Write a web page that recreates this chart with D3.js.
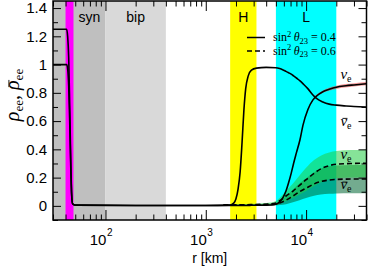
<!DOCTYPE html>
<html>
<head>
<meta charset="utf-8">
<script src="https://cdn.jsdelivr.net/npm/d3@7"></script>
<style>
  html, body { margin: 0; padding: 0; background: #fff; }
  svg { display: block; }
</style>
</head>
<body>
<div id="chart"></div>
<script>
// shaded regions along r [km]
const regionNames = ["syn", "bip", "H", "L"];
const regionStart = [30, 100, 1750, 5000];
const regionEnd = [100, 400, 3200, 20000];
const regionColors = ["#bfbfbf", "#d9d9d9", "#ffff00", "#00ffff"];
const regionLabelStart = [48, 100, 1750, 5000];
const neutrinoSphere = [40, 48];

// sin^2 theta23 = 0.4 (solid)
const r04 = [30, 41, 42, 43, 44, 45, 46, 47, 50, 200, 1000,
  1700, 1900, 2000, 2100, 2200, 2300, 2400, 2500, 2650, 2850, 3200,
  4000, 5000, 5450, 5900, 6300, 6700, 7100, 7500, 8000, 8700, 9300,
  10400, 11700, 12600, 14700, 17000, 20000, 25000, 30000, 40000];
const rhoNuE04 = [1.0, 1.0, 0.97, 0.85, 0.6, 0.3, 0.08, 0.015, 0.005, 0.003, 0.003,
  0.003, 0.003, 0.003, 0.003, 0.003, 0.003, 0.003, 0.003, 0.003, 0.004, 0.004,
  0.005, 0.012, 0.028, 0.06, 0.105, 0.165, 0.23, 0.3, 0.375, 0.47, 0.57,
  0.68, 0.75, 0.775, 0.808, 0.825, 0.84, 0.85, 0.856, 0.865];
const rhoNuEbar04 = [1.25, 1.25, 1.2, 1.05, 0.72, 0.35, 0.09, 0.015, 0.005, 0.003, 0.003,
  0.005, 0.02, 0.05, 0.12, 0.24, 0.45, 0.68, 0.83, 0.92, 0.96, 0.975,
  0.98, 0.978, 0.972, 0.962, 0.952, 0.942, 0.932, 0.92, 0.905, 0.885, 0.865,
  0.83, 0.785, 0.762, 0.735, 0.72, 0.713, 0.707, 0.703, 0.7];
// spread of nu_e (0.4)
const rBand04 = [9300, 11700, 14700, 20000, 30000, 40000];
const nuE04Lo = [0.57, 0.745, 0.8, 0.828, 0.844, 0.853];
const nuE04Hi = [0.57, 0.755, 0.816, 0.851, 0.868, 0.877];

// sin^2 theta23 = 0.6 (dashed)
const r06 = [1500, 2500, 4000, 5000, 5450, 6300, 7400, 8600, 10000,
  12000, 14000, 17000, 20000, 28000, 40000];
const rhoNuE06 = [0.006, 0.008, 0.012, 0.02, 0.036, 0.07, 0.105, 0.145, 0.185,
  0.23, 0.262, 0.285, 0.295, 0.3, 0.302];
const nuE06Lo = [0.002, 0.003, 0.004, 0.006, 0.015, 0.035, 0.055, 0.08, 0.105,
  0.14, 0.165, 0.188, 0.196, 0.2, 0.203];
const nuE06Hi = [0.01, 0.013, 0.02, 0.035, 0.056, 0.105, 0.158, 0.215, 0.27,
  0.325, 0.355, 0.378, 0.388, 0.395, 0.398];
const rhoNuEbar06 = [0.005, 0.006, 0.009, 0.012, 0.02, 0.04, 0.07, 0.1, 0.125,
  0.155, 0.172, 0.183, 0.187, 0.19, 0.19];
const nuEbar06Lo = [0.001, 0.002, 0.003, 0.004, 0.006, 0.012, 0.025, 0.04, 0.055,
  0.072, 0.08, 0.085, 0.088, 0.089, 0.09];
const nuEbar06Hi = [0.009, 0.01, 0.015, 0.02, 0.034, 0.068, 0.115, 0.16, 0.195,
  0.238, 0.264, 0.281, 0.286, 0.29, 0.29];

// ticks and legend
const xMajor = [100, 1000, 10000];
const xExponents = ["2", "3", "4"];
const yMajor = [0, 0.2, 0.4, 0.6, 0.8, 1, 1.2, 1.4];
const legendValues = ["0.4", "0.6"];
const legendDash = [null, "5,3"];

class FlavorChart {
  constructor() {
    const attrs = {
      container: "#chart",
      svgWidth: 368,
      svgHeight: 269,
      marginTop: 1,
      marginBottom: 49,
      marginLeft: 53,
      marginRight: 1.5,
      sansFont: "'Liberation Sans', Arial, sans-serif",
      serifFont: "'Liberation Serif', 'Times New Roman', serif",
    };
    this.getState = () => attrs;
    this.setState = (d) => Object.assign(attrs, d);
  }

  render() {
    this.calculateProperties();
    this.drawSvgAndWrappers();
    this.drawRegions();
    this.drawBands();
    this.drawAxes();
    this.drawCurves();
    this.drawLabels();
    return this;
  }

  calculateProperties() {
    const { svgWidth, svgHeight, marginTop, marginBottom, marginLeft, marginRight } = this.getState();
    const chartWidth = svgWidth - marginLeft - marginRight;
    const chartHeight = svgHeight - marginTop - marginBottom;
    const x = d3.scaleLog().domain([30, 40000]).range([0, chartWidth]);
    const y = d3.scaleLinear().domain([-0.1, 1.45]).range([chartHeight, 0]);
    this.setState({ calc: { chartWidth, chartHeight }, x, y });
  }

  drawSvgAndWrappers() {
    const { container, svgWidth, svgHeight, marginLeft, marginTop } = this.getState();
    const svg = d3.select(container).append("svg")
      .attr("width", svgWidth)
      .attr("height", svgHeight);
    const chart = svg.append("g")
      .attr("transform", `translate(${marginLeft},${marginTop})`);
    this.setState({ svg, chart });
  }

  drawRegions() {
    const { chart, x, calc } = this.getState();
    chart.selectAll(".region")
      .data(regionNames)
      .join("rect")
      .attr("class", "region")
      .attr("x", (d, i) => x(regionStart[i]))
      .attr("width", (d, i) => x(regionEnd[i]) - x(regionStart[i]))
      .attr("y", 0)
      .attr("height", calc.chartHeight)
      .attr("fill", (d, i) => regionColors[i]);
  }

  drawBands() {
    const { chart, x, y } = this.getState();
    const area = d3.area()
      .x((d) => x(d[0]))
      .y0((d) => y(d[1]))
      .y1((d) => y(d[2]))
      .curve(d3.curveMonotoneX);

    const bands = [
      { r: r06, lo: nuEbar06Lo, hi: nuEbar06Hi, fill: "#006633", op: 0.55 },
      { r: r06, lo: nuE06Lo, hi: nuE06Hi, fill: "#22cc44", op: 0.55 },
      { r: rBand04, lo: nuE04Lo, hi: nuE04Hi, fill: "#ee5555", op: 0.6 },
    ];
    chart.selectAll(".band")
      .data(bands)
      .join("path")
      .attr("class", "band")
      .attr("d", (b) => area(b.r.map((r, i) => [r, b.lo[i], b.hi[i]])))
      .attr("fill", (b) => b.fill)
      .attr("fill-opacity", (b) => b.op);
  }

  drawAxes() {
    const { chart, x, y, calc, sansFont } = this.getState();
    const xMinor = x.ticks().filter((t) => !xMajor.includes(t));
    const yMinor = y.ticks(16).filter((t) => !yMajor.some((m) => Math.abs(m - t) < 1e-9));

    const styleAxis = (g) => {
      g.select(".domain").remove();
      g.selectAll(".tick line").attr("stroke", "#000").attr("stroke-width", 1);
    };

    // magenta neutrinosphere strip sits under the ticks
    chart.append("rect")
      .attr("x", x(neutrinoSphere[0]))
      .attr("width", x(neutrinoSphere[1]) - x(neutrinoSphere[0]))
      .attr("y", 0)
      .attr("height", calc.chartHeight)
      .attr("fill", "#ff00ff");

    // bottom
    const bottomMajor = chart.append("g")
      .attr("transform", `translate(0,${calc.chartHeight})`)
      .call(d3.axisBottom(x).tickValues(xMajor).tickSize(-10).tickFormat(""))
      .call(styleAxis);
    chart.append("g")
      .attr("transform", `translate(0,${calc.chartHeight})`)
      .call(d3.axisBottom(x).tickValues(xMinor).tickSize(-5.5).tickFormat(""))
      .call(styleAxis);
    bottomMajor.selectAll(".tick").each(function (d, i) {
      const t = d3.select(this);
      t.append("text")
        .attr("x", 0.5).attr("y", 25)
        .attr("text-anchor", "end")
        .attr("fill", "#000")
        .style("font-family", sansFont).style("font-size", "15px")
        .text("10");
      t.append("text")
        .attr("x", 1).attr("y", 16)
        .attr("text-anchor", "start")
        .attr("fill", "#000")
        .style("font-family", sansFont).style("font-size", "10px")
        .text(xExponents[i]);
    });

    // top
    chart.append("g")
      .call(d3.axisTop(x).tickValues(xMajor).tickSize(-10).tickFormat(""))
      .call(styleAxis);
    chart.append("g")
      .call(d3.axisTop(x).tickValues(xMinor).tickSize(-5.5).tickFormat(""))
      .call(styleAxis);

    // left
    chart.append("g")
      .call(d3.axisLeft(y).tickValues(yMajor).tickSize(-8).tickPadding(6).tickFormat(d3.format("~g")))
      .call(styleAxis)
      .call((g) => g.selectAll("text")
        .attr("fill", "#000")
        .style("font-family", sansFont)
        .style("font-size", "15px"));
    chart.append("g")
      .call(d3.axisLeft(y).tickValues(yMinor).tickSize(-5).tickFormat(""))
      .call(styleAxis);

    // right
    chart.append("g")
      .attr("transform", `translate(${calc.chartWidth},0)`)
      .call(d3.axisRight(y).tickValues(yMajor).tickSize(-8).tickFormat(""))
      .call(styleAxis);
    chart.append("g")
      .attr("transform", `translate(${calc.chartWidth},0)`)
      .call(d3.axisRight(y).tickValues(yMinor).tickSize(-5).tickFormat(""))
      .call(styleAxis);
  }

  drawCurves() {
    const { chart, x, y, calc } = this.getState();
    const line = d3.line()
      .x((d) => x(d[0]))
      .y((d) => y(d[1]))
      .curve(d3.curveMonotoneX);

    const curves = [
      { r: r06, v: rhoNuE06, dash: "5,3" },
      { r: r06, v: rhoNuEbar06, dash: "5,3" },
      { r: r04, v: rhoNuE04, dash: null },
      { r: r04, v: rhoNuEbar04, dash: null },
    ];
    chart.selectAll(".curve")
      .data(curves)
      .join("path")
      .attr("class", "curve")
      .attr("d", (c) => line(c.r.map((r, i) => [r, c.v[i]])))
      .attr("fill", "none")
      .attr("stroke", "#000")
      .attr("stroke-width", 1.6)
      .attr("stroke-dasharray", (c) => c.dash);

    // frame
    chart.append("rect")
      .attr("width", calc.chartWidth)
      .attr("height", calc.chartHeight)
      .attr("fill", "none")
      .attr("stroke", "#000")
      .attr("stroke-width", 1.5);
  }

  // bar over a glyph (antineutrino / rho-bar), placed from the glyph's own box
  addBar(textSel, charIndex) {
    const ext = textSel.node().getExtentOfChar(charIndex);
    textSel.node().parentNode.appendChild(
      d3.create("svg:line")
        .attr("x1", ext.x + ext.width * 0.3)
        .attr("x2", ext.x + ext.width * 1.05)
        .attr("y1", ext.y + ext.height * 0.36)
        .attr("y2", ext.y + ext.height * 0.36)
        .attr("transform", textSel.attr("transform"))
        .attr("stroke", "#000")
        .attr("stroke-width", 0.9)
        .node()
    );
  }

  drawLabels() {
    const { svg, chart, x, y, calc, sansFont, serifFont } = this.getState();

    // region names
    chart.selectAll(".region-label")
      .data(regionNames)
      .join("text")
      .attr("class", "region-label")
      .attr("x", (d, i) => (x(regionLabelStart[i]) + x(regionEnd[i])) / 2)
      .attr("y", 21)
      .attr("text-anchor", "middle")
      .style("font-family", sansFont)
      .style("font-size", "14px")
      .text((d) => d);

    // legend
    const legend = chart.selectAll(".legend")
      .data(legendValues)
      .join("g")
      .attr("class", "legend")
      .attr("transform", (d, i) => `translate(194,${36.5 + i * 13.5})`);
    legend.append("line")
      .attr("x1", 0).attr("x2", 18)
      .attr("stroke", "#000").attr("stroke-width", 1.5)
      .attr("stroke-dasharray", (d, i) => legendDash[i]);
    const lt = legend.append("text")
      .attr("x", 26).attr("y", 3.5)
      .style("font-family", serifFont)
      .style("font-size", "12px");
    lt.append("tspan").text("sin");
    lt.append("tspan").attr("dy", -4.5).style("font-size", "8.5px").text("2");
    lt.append("tspan").attr("dy", 4.5).text("\u2009");
    lt.append("tspan").style("font-style", "italic").text("θ");
    lt.append("tspan").attr("dy", 2.5).style("font-size", "8.5px").text("23");
    lt.append("tspan").attr("dy", -2.5).text((d) => " = " + d);

    // flavour labels on the right
    const flavourBar = [false, true, false, true];
    const flavourRho = [0.9, 0.568, 0.333, 0.117];
    flavourBar.forEach((bar, i) => {
      const txt = chart.append("text")
        .attr("x", x(22000))
        .attr("y", y(flavourRho[i]))
        .style("font-family", serifFont)
        .style("font-size", "15px");
      txt.append("tspan").style("font-style", "italic").text("ν");
      txt.append("tspan").attr("dy", 3).style("font-size", "10px").text("e");
      if (bar) this.addBar(txt, 0);
    });

    // axis titles
    chart.append("text")
      .attr("x", calc.chartWidth / 2)
      .attr("y", 262)
      .attr("text-anchor", "middle")
      .style("font-family", sansFont)
      .style("font-size", "14px")
      .text("r [km]");

    const yt = svg.append("text")
      .attr("transform", "translate(19,95) rotate(-90)")
      .attr("text-anchor", "middle")
      .style("font-family", serifFont)
      .style("font-size", "20px");
    yt.append("tspan").style("font-style", "italic").text("ρ");
    yt.append("tspan").attr("dy", 4).style("font-size", "13px").text("ee");
    yt.append("tspan").attr("dy", -4).text(", ");
    yt.append("tspan").style("font-style", "italic").text("ρ");
    yt.append("tspan").attr("dy", 4).style("font-size", "13px").text("ee");
    this.addBar(yt, 5);
  }
}

new FlavorChart().render();
</script>
</body>
</html>
